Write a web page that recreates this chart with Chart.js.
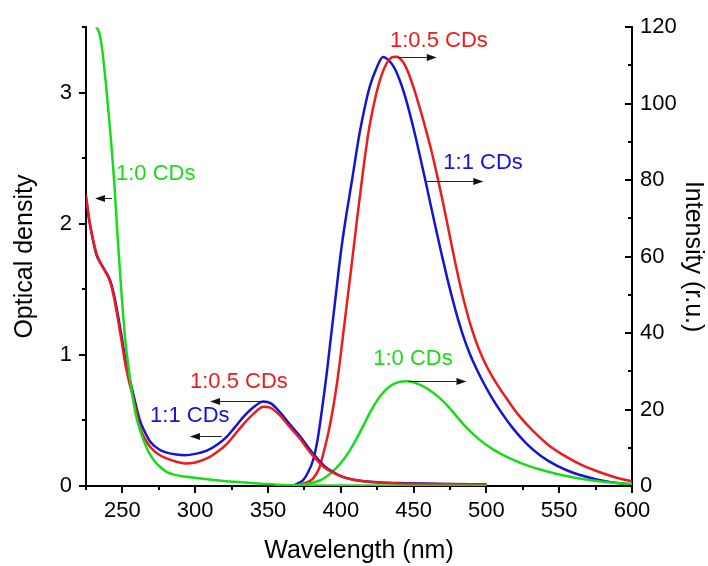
<!DOCTYPE html>
<html>
<head>
<meta charset="utf-8">
<script src="https://cdn.jsdelivr.net/npm/chart.js@4/dist/chart.umd.min.js"></script>
<style>
  html, body { margin: 0; padding: 0; background: #ffffff; }
  #wrap { width: 708px; height: 566px; }
</style>
</head>
<body>
<div id="wrap"><canvas id="spectra" width="708" height="566"></canvas></div>
<script>
// ---- Axis tick values ----
const wavelengthTicks = [250, 300, 350, 400, 450, 500, 550, 600];
const densityTicks = [0, 1, 2, 3];
const intensityTicks = [0, 20, 40, 60, 80, 100, 120];

// ---- Absorption spectra (optical density, left axis) ----
// 1:0 CDs
const absNm0 = [232, 234, 236, 239, 242, 244.5, 247, 249.5, 252, 254.5, 257, 259.5, 262, 264.5, 268, 272, 276, 280, 286, 294, 305, 318, 330, 345, 360, 375, 400, 450, 500];
const absOd0 = [3.50, 3.46, 3.34, 3.03, 2.66, 2.30, 1.85, 1.45, 1.11, 0.88, 0.68, 0.53, 0.43, 0.35, 0.26, 0.19, 0.145, 0.11, 0.085, 0.07, 0.055, 0.04, 0.03, 0.018, 0.007, 0.004, 0.003, 0.002, 0.002];
// 1:0.5 CDs and 1:1 CDs share the same wavelength grid
const absNm = [225, 227, 229.5, 232.3, 235, 238, 241.5, 244, 246.5, 249.5, 252, 254.5, 257.5, 262, 265.5, 269, 275, 280.4, 287, 293, 300, 308, 315, 321.6, 327, 333, 340, 346.8, 352, 358, 365, 372, 378, 383.4, 389, 395, 401, 408, 420, 440, 470, 500];
const absOd05 = [2.22, 2.05, 1.90, 1.77, 1.70, 1.64, 1.56, 1.45, 1.30, 1.10, 0.93, 0.80, 0.67, 0.45, 0.36, 0.30, 0.24, 0.21, 0.185, 0.172, 0.18, 0.21, 0.26, 0.32, 0.39, 0.47, 0.55, 0.605, 0.595, 0.54, 0.45, 0.36, 0.27, 0.20, 0.14, 0.10, 0.07, 0.05, 0.03, 0.02, 0.015, 0.012];
const absOd1 = [2.20, 2.04, 1.89, 1.76, 1.70, 1.645, 1.57, 1.47, 1.33, 1.14, 0.97, 0.84, 0.70, 0.50, 0.41, 0.34, 0.28, 0.255, 0.24, 0.235, 0.245, 0.27, 0.315, 0.375, 0.445, 0.525, 0.60, 0.645, 0.63, 0.565, 0.47, 0.38, 0.29, 0.215, 0.15, 0.105, 0.072, 0.05, 0.032, 0.022, 0.016, 0.013];

// ---- Emission spectra (intensity, right axis) ----
const emNm0 = [366, 372, 380, 386, 390, 395, 400, 405, 410, 415, 420, 425, 430, 435, 440, 445, 450, 456, 462, 468, 474, 480, 487, 495, 504, 514, 525, 537, 550, 562, 580, 600];
const emI0 = [0, 0.3, 0.8, 1.5, 2.4, 4.0, 6.0, 8.6, 11.8, 15.4, 19.2, 22.4, 24.8, 26.4, 27.2, 27.4, 27.1, 26.2, 24.8, 23.0, 20.7, 18.0, 15.0, 12.2, 9.7, 7.6, 5.8, 4.3, 3.0, 2.1, 1.1, 0.5];
const emNm05 = [368, 372, 377, 381, 385, 388, 391.5, 394.8, 397.5, 399.5, 403, 407, 410.3, 413, 415.5, 419, 423.4, 427, 431.4, 435, 438, 442, 446, 450, 454, 458, 462, 466, 470, 474, 478, 482, 486, 490, 494, 498, 502, 508, 514, 522, 532, 543, 555, 566, 578, 590, 600];
const emI05 = [0, 0.3, 1.0, 2.0, 4.5, 8.5, 14, 20.6, 27.2, 33, 44, 56.5, 67, 75.5, 83, 92.5, 101, 106.3, 110.5, 112.1, 112.3, 111.3, 108.5, 104.2, 99.2, 93.8, 88, 81.5, 74.5, 67, 59.5, 52.5, 46.3, 41, 36.6, 33, 30, 26.2, 22.8, 18.6, 14.4, 10.6, 7.6, 5.4, 3.6, 2.1, 1.2];
const emNm1 = [365, 368, 371, 374, 377, 381, 384, 386, 388.5, 390.5, 392.6, 396, 400, 403, 407.5, 413, 417, 420, 424, 429, 433, 437, 441, 445, 449, 453, 457, 461, 465, 469, 473, 477, 481, 485, 489, 493, 498, 503, 510, 518, 527, 537, 548, 560, 575, 590, 600];
const emI1 = [0, 0.2, 0.8, 1.5, 3.2, 6.8, 12, 17, 24, 30, 37, 48, 61, 69, 79.5, 92.5, 100, 104.6, 108.8, 112.2, 111.3, 109.2, 105.6, 100.8, 95, 88.6, 81.8, 74.8, 67.8, 61, 54.5, 48.5, 43, 38.2, 34.2, 30.8, 27, 23.6, 19.4, 15.2, 11.3, 8, 5.4, 3.4, 1.8, 0.8, 0.4];

// ---- Styling ----
const FONT = '"Liberation Sans", Arimo, Arial, sans-serif';
const GREEN = '#18dc18';
const RED = '#ec1c1c';
const BLUE = '#1414d2';

// Sample labels with arrows pointing to the axis each curve belongs to
const curveNotes = [
  { text: '1:0 CDs',   color: GREEN, axis: 'yOD',  labelX: 245.6, labelY: 2.38,  arrowY: 2.2,   from: 242.9, to: 231.2 },
  { text: '1:0.5 CDs', color: RED,   axis: 'yOD',  labelX: 296.4, labelY: 0.795, arrowY: 0.652, from: 348.4, to: 310.2 },
  { text: '1:1 CDs',   color: BLUE,  axis: 'yOD',  labelX: 269.0, labelY: 0.538, arrowY: 0.379, from: 318.2, to: 296.4 },
  { text: '1:0.5 CDs', color: RED,   axis: 'yInt', labelX: 433.8, labelY: 116.4, arrowY: 112.2, from: 439.5, to: 465.9 },
  { text: '1:1 CDs',   color: BLUE,  axis: 'yInt', labelX: 470.4, labelY: 84.4,  arrowY: 79.7,  from: 459.0, to: 497.9 },
  { text: '1:0 CDs',   color: GREEN, axis: 'yInt', labelX: 422.3, labelY: 33.2,  arrowY: 27.4,  from: 446.4, to: 486.3 }
];

const toPoints = (xs, ys) => xs.map((x, i) => ({ x: x, y: ys[i] }));

function series(xs, ys, color, axis) {
  return {
    data: toPoints(xs, ys),
    borderColor: color,
    backgroundColor: color,
    yAxisID: axis,
    xAxisID: 'x',
    borderWidth: 2.5,
    pointRadius: 0,
    cubicInterpolationMode: 'monotone',
    fill: false
  };
}

// Major and minor tick marks (outward on left/bottom, inward on the right axis)
const tickMarks = {
  id: 'tickMarks',
  afterDraw(chart) {
    const { ctx, chartArea: a, scales } = chart;
    ctx.save();
    ctx.strokeStyle = '#000';
    ctx.lineWidth = 2;
    ctx.beginPath();
    for (let v = 225; v <= 600; v += 25) {
      const p = Math.round(scales.x.getPixelForValue(v));
      const len = v % 50 === 0 ? 7 : 4;
      ctx.moveTo(p, a.bottom); ctx.lineTo(p, a.bottom + len);
    }
    for (let v = 0; v <= 3.5; v += 0.5) {
      const p = Math.round(scales.yOD.getPixelForValue(v));
      const len = Number.isInteger(v) ? 7 : 4;
      ctx.moveTo(a.left, p); ctx.lineTo(a.left - len, p);
    }
    for (let v = 0; v <= 120; v += 10) {
      const p = Math.round(scales.yInt.getPixelForValue(v));
      const len = v % 20 === 0 ? 7 : 4;
      ctx.moveTo(a.right, p); ctx.lineTo(a.right - len, p);
    }
    ctx.stroke();
    ctx.restore();
  }
};

const arrowNotes = {
  id: 'arrowNotes',
  afterDatasetsDraw(chart) {
    const { ctx, scales } = chart;
    const xs = scales.x;
    ctx.save();
    curveNotes.forEach(n => {
      const ys = scales[n.axis];
      ctx.font = '22px ' + FONT;
      ctx.fillStyle = n.color;
      ctx.textAlign = 'left';
      ctx.textBaseline = 'middle';
      ctx.fillText(n.text, xs.getPixelForValue(n.labelX), ys.getPixelForValue(n.labelY));

      const ay = Math.round(ys.getPixelForValue(n.arrowY)) + 0.5;
      const x0 = xs.getPixelForValue(n.from);
      const x1 = xs.getPixelForValue(n.to);
      const dir = Math.sign(x1 - x0);
      const head = 10, half = 3.5;
      ctx.strokeStyle = '#222';
      ctx.lineWidth = 1;
      ctx.beginPath();
      ctx.moveTo(x0, ay);
      ctx.lineTo(x1 - dir * head, ay);
      ctx.stroke();
      ctx.fillStyle = '#111';
      ctx.beginPath();
      ctx.moveTo(x1, ay);
      ctx.lineTo(x1 - dir * head, ay - half);
      ctx.lineTo(x1 - dir * head, ay + half);
      ctx.closePath();
      ctx.fill();
    });
    ctx.restore();
  }
};

const tickFont = { family: FONT, size: 22 };
const titleFont = { family: FONT, size: 25 };

new Chart(document.getElementById('spectra'), {
  type: 'line',
  data: {
    datasets: [
      series(absNm0, absOd0, GREEN, 'yOD'),
      series(absNm, absOd05, RED, 'yOD'),
      series(absNm, absOd1, BLUE, 'yOD'),
      series(emNm0, emI0, GREEN, 'yInt'),
      series(emNm05, emI05, RED, 'yInt'),
      series(emNm1, emI1, BLUE, 'yInt')
    ]
  },
  options: {
    responsive: false,
    animation: false,
    devicePixelRatio: 1,
    layout: { padding: { top: 24, left: 0, right: 0, bottom: 0 } },
    plugins: { legend: { display: false }, tooltip: { enabled: false } },
    scales: {
      x: {
        type: 'linear', position: 'bottom', min: 225, max: 600,
        afterBuildTicks: s => { s.ticks = wavelengthTicks.map(v => ({ value: v })); },
        afterFit: s => { s.height = 80; },
        grid: { display: false, drawTicks: false },
        border: { display: true, color: '#000', width: 2 },
        ticks: { color: '#000', font: tickFont, padding: 12, maxRotation: 0, autoSkip: false },
        title: { display: true, text: 'Wavelength (nm)', color: '#000', font: titleFont, padding: { top: 0, bottom: 0 } }
      },
      yOD: {
        type: 'linear', position: 'left', min: 0, max: 3.5,
        afterBuildTicks: s => { s.ticks = densityTicks.map(v => ({ value: v })); },
        afterFit: s => { s.width = 86; },
        grid: { display: false, drawTicks: false },
        border: { display: true, color: '#000', width: 2 },
        ticks: { color: '#000', font: tickFont, padding: 14, autoSkip: false },
        title: { display: true, text: 'Optical density', color: '#000', font: titleFont, padding: { top: 10, bottom: 0 } }
      },
      yInt: {
        type: 'linear', position: 'right', min: 0, max: 120,
        afterBuildTicks: s => { s.ticks = intensityTicks.map(v => ({ value: v })); },
        afterFit: s => { s.width = 76; },
        grid: { display: false, drawTicks: false },
        border: { display: true, color: '#000', width: 2 },
        ticks: { color: '#000', font: tickFont, padding: 8, autoSkip: false },
        title: { display: true, text: 'Intensity (r.u.)', color: '#000', font: titleFont, padding: { top: 0, bottom: 0 } }
      }
    }
  },
  plugins: [tickMarks, arrowNotes]
});
</script>
</body>
</html>
